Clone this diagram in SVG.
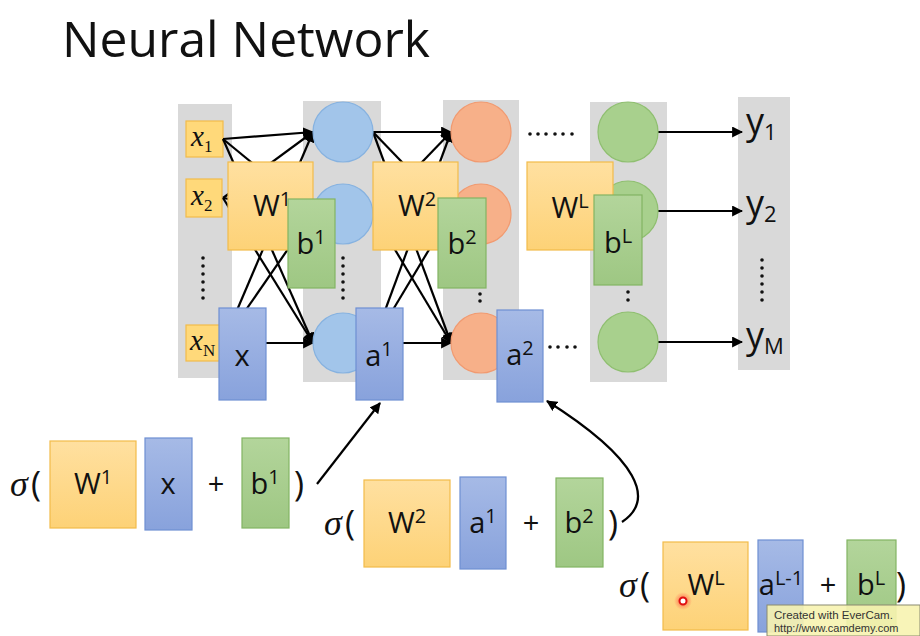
<svg xmlns="http://www.w3.org/2000/svg" width="920" height="636" viewBox="0 0 920 636">
<defs>
<linearGradient id="gy" x1="0" y1="0" x2="0" y2="1"><stop offset="0" stop-color="#ffe0a0"/><stop offset="1" stop-color="#fdd277"/></linearGradient>
<linearGradient id="gb" x1="0" y1="0" x2="0" y2="1"><stop offset="0" stop-color="#a6bae6"/><stop offset="1" stop-color="#88a2dc"/></linearGradient>
<linearGradient id="gg" x1="0" y1="0" x2="0" y2="1"><stop offset="0" stop-color="#b3d59b"/><stop offset="1" stop-color="#9ec783"/></linearGradient>
<marker id="ah" viewBox="0 0 10 10" refX="9" refY="5" markerWidth="5" markerHeight="5" orient="auto" markerUnits="strokeWidth"><path d="M0,0 L10,5 L0,10 z" fill="#000"/></marker>
<radialGradient id="glow"><stop offset="0" stop-color="#ff3030" stop-opacity="0.7"/><stop offset="1" stop-color="#ff3030" stop-opacity="0"/></radialGradient>
</defs>
<style>
.col{fill:#d9d9d9}
.yb{fill:url(#gy);stroke:#f2bb4a;stroke-width:1.2}
.bb{fill:url(#gb);stroke:#6e8fd3;stroke-width:1.2}
.gb{fill:url(#gg);stroke:#82b463;stroke-width:1.2}
.inb{fill:#ffd97a;stroke:#f2bb4a;stroke-width:1.2}
.cb{fill:#a2c5ea;stroke:#86b2e0;stroke-width:1.2}
.co{fill:#f7b089;stroke:#f19a70;stroke-width:1.2}
.cg{fill:#a8d08d;stroke:#8fbf70;stroke-width:1.2}
.ln{stroke:#000;stroke-width:2.2;fill:none;marker-end:url(#ah)}
.t{font-family:"Open Sans","Liberation Sans",sans-serif;fill:#111;font-size:29px}
.sup{font-size:20px}
.it{font-family:"Liberation Serif",serif;font-style:italic;fill:#111;font-size:29px}
.sub{font-size:17px;font-style:normal}
.sg{font-family:"Liberation Serif",serif;font-style:italic;fill:#111;font-size:36px}
.par{font-family:"Open Sans","Liberation Sans",sans-serif;fill:#111;font-size:34px}
.yo{font-family:"Open Sans","Liberation Sans",sans-serif;fill:#111;font-size:36px}
.dot{fill:#111}
</style>
<rect width="920" height="636" fill="#fff"/>
<text x="62" y="57" font-family="Open Sans, Liberation Sans, sans-serif" font-size="50" fill="#111" textLength="368" lengthAdjust="spacingAndGlyphs">Neural Network</text>

<g id="columns">
<rect class="col" x="178" y="104" width="54" height="274"/>
<rect class="col" x="303" y="101" width="78" height="281"/>
<rect class="col" x="443" y="100" width="76" height="280"/>
<rect class="col" x="590" y="102" width="77" height="280"/>
<rect class="col" x="738" y="97" width="52" height="273"/>
</g>

<g id="inputs">
<g id="x1"><rect class="inb" x="186" y="121" width="37" height="36"/><text class="it" x="191" y="146">x<tspan class="sub" dy="6">1</tspan></text></g>
<g id="x2"><rect class="inb" x="186" y="179" width="36" height="38"/><text class="it" x="191" y="205">x<tspan class="sub" dy="6">2</tspan></text></g>
<g id="xN"><rect class="inb" x="186" y="325" width="37" height="36"/><text class="it" x="190" y="350">x<tspan class="sub" dy="6">N</tspan></text></g>
<g id="xdots"><circle class="dot" cx="203" cy="258" r="1.8"/><circle class="dot" cx="203" cy="266" r="1.8"/><circle class="dot" cx="203" cy="274" r="1.8"/><circle class="dot" cx="203" cy="282" r="1.8"/><circle class="dot" cx="203" cy="290" r="1.8"/><circle class="dot" cx="203" cy="298" r="1.8"/></g>
</g>

<g id="connectors">
<line class="ln" x1="223" y1="139" x2="313" y2="132"/>
<line class="ln" x1="223" y1="139" x2="313" y2="213"/>
<line class="ln" x1="223" y1="139" x2="313" y2="343"/>
<line class="ln" x1="223" y1="198" x2="313" y2="132"/>
<line class="ln" x1="223" y1="198" x2="313" y2="213"/>
<line class="ln" x1="223" y1="198" x2="313" y2="343"/>
<line class="ln" x1="223" y1="343" x2="313" y2="132"/>
<line class="ln" x1="223" y1="343" x2="313" y2="213"/>
<line class="ln" x1="223" y1="343" x2="313" y2="343"/>
<line class="ln" x1="373" y1="132" x2="451" y2="132"/>
<line class="ln" x1="373" y1="132" x2="451" y2="213"/>
<line class="ln" x1="373" y1="132" x2="451" y2="343"/>
<line class="ln" x1="373" y1="213" x2="451" y2="132"/>
<line class="ln" x1="373" y1="213" x2="451" y2="213"/>
<line class="ln" x1="373" y1="213" x2="451" y2="343"/>
<line class="ln" x1="373" y1="343" x2="451" y2="132"/>
<line class="ln" x1="373" y1="343" x2="451" y2="213"/>
<line class="ln" x1="373" y1="343" x2="451" y2="343"/>
<line class="ln" x1="658" y1="132" x2="742" y2="132"/>
<line class="ln" x1="658" y1="211" x2="742" y2="211"/>
<line class="ln" x1="658" y1="342" x2="742" y2="342"/>
<line class="ln" x1="317" y1="484" x2="380" y2="403"/>
<path class="ln" d="M622,522 C655,500 640,460 547,401"/>
</g>

<g id="layer1">
<circle class="cb" cx="343" cy="132" r="30"/>
<circle class="cb" cx="343" cy="214" r="30"/>
<circle class="cb" cx="343" cy="343" r="30"/>
<g><circle class="dot" cx="343" cy="258" r="1.8"/><circle class="dot" cx="343" cy="266" r="1.8"/><circle class="dot" cx="343" cy="274" r="1.8"/><circle class="dot" cx="343" cy="282" r="1.8"/><circle class="dot" cx="343" cy="290" r="1.8"/><circle class="dot" cx="343" cy="298" r="1.8"/></g>
</g>
<g id="layer2">
<circle class="co" cx="481" cy="132" r="30"/>
<circle class="co" cx="481" cy="214" r="30"/>
<circle class="co" cx="481" cy="343" r="30"/>
<g><circle class="dot" cx="480" cy="286" r="1.8"/><circle class="dot" cx="480" cy="294" r="1.8"/><circle class="dot" cx="480" cy="301" r="1.8"/></g>
</g>
<g id="layerL">
<circle class="cg" cx="628" cy="132" r="30"/>
<circle class="cg" cx="628" cy="211" r="30"/>
<circle class="cg" cx="628" cy="342" r="30"/>
<g><circle class="dot" cx="628" cy="292" r="1.8"/><circle class="dot" cx="628" cy="300" r="1.8"/></g>
</g>
<g id="hdots">
<circle class="dot" cx="530" cy="134" r="1.8"/><circle class="dot" cx="538" cy="134" r="1.8"/><circle class="dot" cx="546" cy="134" r="1.8"/><circle class="dot" cx="555" cy="134" r="1.8"/><circle class="dot" cx="563" cy="134" r="1.8"/><circle class="dot" cx="572" cy="134" r="1.8"/>
<circle class="dot" cx="550" cy="347" r="1.8"/><circle class="dot" cx="558" cy="347" r="1.8"/><circle class="dot" cx="567" cy="347" r="1.8"/><circle class="dot" cx="575" cy="347" r="1.8"/>
</g>
<g id="outputs">
<text class="yo" x="746" y="134">y<tspan font-size="22" dy="6">1</tspan></text>
<text class="yo" x="746" y="216">y<tspan font-size="22" dy="6">2</tspan></text>
<g><circle class="dot" cx="762" cy="260" r="1.8"/><circle class="dot" cx="762" cy="268" r="1.8"/><circle class="dot" cx="762" cy="276" r="1.8"/><circle class="dot" cx="762" cy="284" r="1.8"/><circle class="dot" cx="762" cy="292" r="1.8"/><circle class="dot" cx="762" cy="300" r="1.8"/></g>
<text class="yo" x="746" y="348">y<tspan font-size="22" dy="6">M</tspan></text>
</g>

<g id="W1"><rect class="yb" x="228" y="162" width="85" height="88"/><text class="t" x="272" y="216" text-anchor="middle">W<tspan class="sup" dy="-10">1</tspan></text></g>
<g id="b1"><rect class="gb" x="288" y="199" width="47" height="89"/><text class="t" x="311" y="254" text-anchor="middle">b<tspan class="sup" dy="-10">1</tspan></text></g>
<g id="W2"><rect class="yb" x="373" y="162" width="85" height="88"/><text class="t" x="417" y="216" text-anchor="middle">W<tspan class="sup" dy="-10">2</tspan></text></g>
<g id="b2"><rect class="gb" x="438" y="198" width="48" height="90"/><text class="t" x="462" y="254" text-anchor="middle">b<tspan class="sup" dy="-10">2</tspan></text></g>
<g id="WL"><rect class="yb" x="527" y="162" width="86" height="88"/><text class="t" x="570" y="218" text-anchor="middle">W<tspan class="sup" dy="-10">L</tspan></text></g>
<g id="bL"><rect class="gb" x="594" y="195" width="48" height="90"/><text class="t" x="618" y="253" text-anchor="middle">b<tspan class="sup" dy="-10">L</tspan></text></g>
<g id="xvec"><rect class="bb" x="219" y="308" width="47" height="92"/><text class="t" x="242" y="366" text-anchor="middle">x</text></g>
<g id="a1"><rect class="bb" x="356" y="308" width="47" height="92"/><text class="t" x="379" y="366" text-anchor="middle">a<tspan class="sup" dy="-10">1</tspan></text></g>
<g id="a2"><rect class="bb" x="497" y="310" width="46" height="92"/><text class="t" x="520" y="365" text-anchor="middle">a<tspan class="sup" dy="-10">2</tspan></text></g>

<g id="formula1">
<text class="sg" x="10" y="496">σ</text><text class="par" x="31" y="496">(</text>
<rect class="yb" x="50" y="441" width="86" height="87"/><text class="t" x="93" y="494" text-anchor="middle">W<tspan class="sup" dy="-10">1</tspan></text>
<rect class="bb" x="145" y="438" width="47" height="92"/><text class="t" x="168" y="494" text-anchor="middle">x</text>
<text class="t" x="216" y="494" text-anchor="middle">+</text>
<rect class="gb" x="242" y="438" width="47" height="90"/><text class="t" x="265" y="494" text-anchor="middle">b<tspan class="sup" dy="-10">1</tspan></text>
<text class="par" x="294" y="496">)</text>
</g>
<g id="formula2">
<text class="sg" x="324" y="535">σ</text><text class="par" x="345" y="535">(</text>
<rect class="yb" x="364" y="480" width="86" height="87"/><text class="t" x="407" y="533" text-anchor="middle">W<tspan class="sup" dy="-10">2</tspan></text>
<rect class="bb" x="460" y="477" width="46" height="92"/><text class="t" x="483" y="533" text-anchor="middle">a<tspan class="sup" dy="-10">1</tspan></text>
<text class="t" x="531" y="533" text-anchor="middle">+</text>
<rect class="gb" x="556" y="478" width="47" height="89"/><text class="t" x="579" y="533" text-anchor="middle">b<tspan class="sup" dy="-10">2</tspan></text>
<text class="par" x="608" y="535">)</text>
</g>
<g id="formula3">
<text class="sg" x="619" y="597">σ</text><text class="par" x="640" y="597">(</text>
<rect class="yb" x="663" y="542" width="85" height="88"/><text class="t" x="706" y="595" text-anchor="middle">W<tspan class="sup" dy="-10">L</tspan></text>
<rect class="bb" x="758" y="540" width="45" height="92"/><text class="t" x="781" y="595" text-anchor="middle">a<tspan class="sup" dy="-10">L-1</tspan></text>
<text class="t" x="828" y="595" text-anchor="middle">+</text>
<rect class="gb" x="847" y="540" width="49" height="90"/><text class="t" x="871" y="595" text-anchor="middle">b<tspan class="sup" dy="-10">L</tspan></text>
<text class="par" x="896" y="597">)</text>
</g>

<g id="cursor"><circle cx="683" cy="601" r="9" fill="url(#glow)"/><circle cx="683" cy="601" r="3.5" fill="#fff" stroke="#e01010" stroke-width="2"/></g>
<g id="watermark">
<rect x="767" y="605" width="153" height="31" fill="#f7f3b0" fill-opacity="0.9" stroke="#8a8a70" stroke-width="1"/>
<text x="774" y="619" font-family="Liberation Sans, sans-serif" font-size="11.5" fill="#333">Created with EverCam.</text>
<text x="774" y="632" font-family="Liberation Sans, sans-serif" font-size="11" fill="#333">http://www.camdemy.com</text>
</g>
</svg>
